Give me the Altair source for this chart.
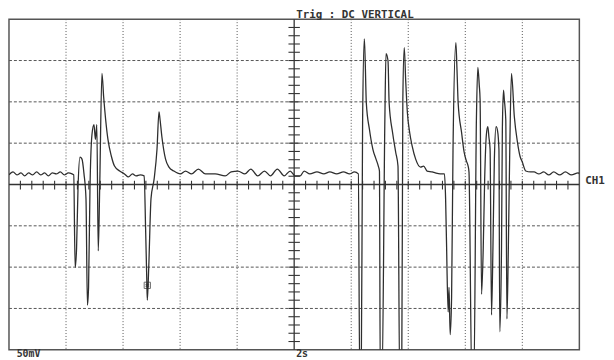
import altair as alt
import pandas as pd

# Oscilloscope trace: time (s, 2 s/div) and voltage (mV, 50 mV/div)
t = [0.00, 0.14, 0.28, 0.42, 0.55, 0.69, 0.83, 0.97, 1.11, 1.25, 1.38, 1.52, 1.66, 1.80, 1.94, 2.08, 2.21, 2.27,
     2.32, 2.37, 2.42, 2.49, 2.56, 2.63, 2.70, 2.75, 2.79, 2.84, 2.91, 2.98, 3.03, 3.08, 3.13, 3.18, 3.26, 3.32,
     3.39, 3.47, 3.59, 3.70, 3.88, 4.05, 4.19, 4.33, 4.46, 4.60, 4.74,
     4.79, 4.83, 4.85, 4.90, 4.98, 5.09, 5.19, 5.26, 5.29, 5.36, 5.49, 5.61, 5.78, 6.01,
     6.19, 6.40, 6.64, 6.89, 7.23, 7.58, 7.79, 8.03, 8.27, 8.48, 8.72, 8.96, 9.17, 9.41, 9.65, 9.86, 10.03,
     10.21, 10.35, 10.55, 10.80, 11.04, 11.25, 11.49, 11.73, 11.94, 12.11, 12.25,
     12.30, 12.35, 12.40, 12.46, 12.49, 12.53, 12.64, 12.76, 12.87, 12.95, 12.99,
     13.02, 13.08, 13.18, 13.22, 13.29, 13.33, 13.45, 13.56, 13.64,
     13.70, 13.77, 13.81, 13.86, 13.91, 13.97, 14.05, 14.14, 14.26, 14.43, 14.54, 14.66, 14.84, 14.95, 15.12, 15.27,
     15.31, 15.35, 15.36, 15.40, 15.43, 15.47, 15.52, 15.57, 15.67, 15.71, 15.75, 15.87, 15.96, 16.04, 16.10, 16.13,
     16.23, 16.30, 16.39, 16.44, 16.49, 16.52, 16.57, 16.63, 16.68, 16.74, 16.79, 16.83, 16.87,
     16.92, 16.97, 17.02, 17.08, 17.13, 17.18, 17.21, 17.27, 17.30, 17.34, 17.37, 17.42,
     17.46, 17.51, 17.56, 17.62, 17.72, 17.83, 17.92, 18.00, 18.12, 18.29, 18.41, 18.58, 18.75,
     18.93, 19.10, 19.31, 19.51, 19.72, 19.96, 20.00]
v = [11.6, 15.2, 11.6, 14.0, 10.4, 14.0, 11.6, 15.2, 11.6, 14.0, 10.4, 14.0, 12.8, 15.2, 11.6, 14.0, 12.8, 11.6,
     -100.6, -76.7, -5.1, 33.1, 30.7, 12.8, -17.1, -145.9, -124.5, -5.1, 60.5, 72.4, 54.5, 72.4, -80.3, -5.1, 134.5, 105.8,
     78.4, 54.5, 34.2, 22.3, 16.3, 12.8, 9.2, 12.8, 10.4, 11.6, 10.4,
     -52.9, -112.5, -140.0, -100.6, -17.1, 6.8, 42.6, 87.9, 80.8, 58.1, 30.7, 21.1, 16.3, 12.8,
     16.3, 12.8, 18.7, 12.8, 12.8, 10.4, 15.2, 16.3, 12.8, 18.7, 10.4, 16.3, 10.4, 18.7, 10.4, 16.3, 10.4,
     10.4, 16.3, 12.8, 15.2, 12.8, 15.2, 12.8, 15.2, 12.8, 15.2, 12.8,
     -240, -240, 78.4, 176.3, 150.0, 98.7, 66.5, 42.6, 30.7, 22.3, 16.3,
     -240, -240, 78.4, 158.4, 150.0, 98.7, 62.9, 39.0, 22.3,
     -240, -240, 102.3, 165.5, 126.1, 86.8, 62.9, 46.2, 30.7, 21.1, 22.3, 16.3, 15.2, 14.0, 12.8, 12.8,
     -17.1, -85.1, -104.2, -154.3, -124.5, -181.7, -136.4, 42.6, 171.5, 138.1, 98.7, 62.9, 39.0, 28.3, 22.3, 15.2,
     -240, -240, 78.4, 141.6, 120.2, 102.3, -132.8, -76.7, 6.8, 60.5, 70.0, 56.9, 42.6,
     -157.9, -76.7, 30.7, 70.0, 65.3, 42.6, -178.2, -76.7, 66.5, 114.2, 102.3, 78.4,
     -162.6, -76.7, 42.6, 134.5, 82.0, 51.0, 34.2, 27.1, 16.3, 15.2, 15.2, 12.8, 15.2,
     11.6, 15.2, 11.6, 15.2, 11.6, 14.0, 13.0]

grid_t = [2, 4, 6, 8, 12, 14, 16, 18]
grid_v = [-150, -100, -50, 50, 100, 150]
minor_t = [round(0.4 * k, 1) for k in range(1, 50)]
minor_v = [10 * k for k in range(-19, 20)]
marker_t = [4.85]
marker_v = [-122]

TRACE = "#2e2e2e"
GRID = "#555555"

X = alt.Scale(domain=[0, 20], nice=False, zero=False)
Y = alt.Scale(domain=[-200, 200], nice=False, zero=False)

trace_df = pd.DataFrame({"t": t, "v": v, "i": list(range(len(t)))})

vgrid = alt.Chart(pd.DataFrame({"t": grid_t})).mark_rule(
    color=GRID, strokeWidth=1, strokeDash=[1, 2]
).encode(x=alt.X("t:Q", scale=X, axis=None))

hgrid = alt.Chart(pd.DataFrame({"v": grid_v})).mark_rule(
    color=GRID, strokeWidth=1, strokeDash=[3, 2]
).encode(y=alt.Y("v:Q", scale=Y, axis=None))

xaxis = alt.Chart(pd.DataFrame({"v": [0]})).mark_rule(color="#333333", strokeWidth=1.3).encode(
    y=alt.Y("v:Q", scale=Y, axis=None))
yaxis = alt.Chart(pd.DataFrame({"t": [10]})).mark_rule(color="#333333", strokeWidth=1.3).encode(
    x=alt.X("t:Q", scale=X, axis=None))

xticks = alt.Chart(pd.DataFrame({"t": minor_t, "a": [4.5] * len(minor_t), "b": [-6.0] * len(minor_t)})).mark_rule(
    color="#333333", strokeWidth=1.1
).encode(x=alt.X("t:Q", scale=X, axis=None), y=alt.Y("a:Q", scale=Y, axis=None), y2="b:Q")

yticks = alt.Chart(pd.DataFrame({"v": minor_v, "a": [9.8] * len(minor_v), "b": [10.2] * len(minor_v)})).mark_rule(
    color="#333333", strokeWidth=1.1
).encode(y=alt.Y("v:Q", scale=Y, axis=None), x=alt.X("a:Q", scale=X, axis=None), x2="b:Q")

line = alt.Chart(trace_df).mark_line(color=TRACE, strokeWidth=1.3, clip=True, interpolate="monotone").encode(
    x=alt.X("t:Q", scale=X, axis=None),
    y=alt.Y("v:Q", scale=Y, axis=None),
    order="i:Q",
)

mk = pd.DataFrame({"t": marker_t, "v": marker_v})
marker_box = alt.Chart(mk).mark_point(shape="square", filled=False, color=TRACE, size=40, strokeWidth=1).encode(
    x=alt.X("t:Q", scale=X, axis=None), y=alt.Y("v:Q", scale=Y, axis=None))
marker_x = alt.Chart(mk).mark_point(shape="cross", angle=45, filled=True, color=TRACE, size=18).encode(
    x=alt.X("t:Q", scale=X, axis=None), y=alt.Y("v:Q", scale=Y, axis=None))

FONT = "DejaVu Sans Mono"
title_txt = alt.Chart(pd.DataFrame({"t": [10], "v": [200], "s": ["Trig : DC VERTICAL"]})).mark_text(
    align="left", baseline="alphabetic", dy=-1.5, dx=2, font=FONT, fontSize=11, fontWeight="bold", color="#333333"
).encode(x=alt.X("t:Q", scale=X, axis=None), y=alt.Y("v:Q", scale=Y, axis=None), text="s:N")

bottom_txt = alt.Chart(pd.DataFrame({"t": [0.2, 10], "v": [-200, -200], "s": ["50mV", "2s"]})).mark_text(
    align="left", baseline="alphabetic", dy=7.5, dx=2, font=FONT, fontSize=10, fontWeight="bold", color="#333333"
).encode(x=alt.X("t:Q", scale=X, axis=None), y=alt.Y("v:Q", scale=Y, axis=None), text="s:N")

ch_txt = alt.Chart(pd.DataFrame({"t": [20], "v": [0], "s": ["CH1"]})).mark_text(
    align="left", baseline="middle", dx=6, dy=-4, font=FONT, fontSize=11, fontWeight="bold", color="#333333"
).encode(x=alt.X("t:Q", scale=X, axis=None), y=alt.Y("v:Q", scale=Y, axis=None), text="s:N")

chart = alt.layer(
    vgrid, hgrid, xaxis, yaxis, xticks, yticks, line, marker_box, marker_x, title_txt, bottom_txt, ch_txt
).properties(
    width=578, height=335, autosize="none",
    padding={"left": 1, "top": 9, "right": 27, "bottom": 8},
    background="white",
).configure_view(stroke="#555555", strokeWidth=1.5)

chart.save("out.html", embed_options={"renderer": "svg", "actions": False})
